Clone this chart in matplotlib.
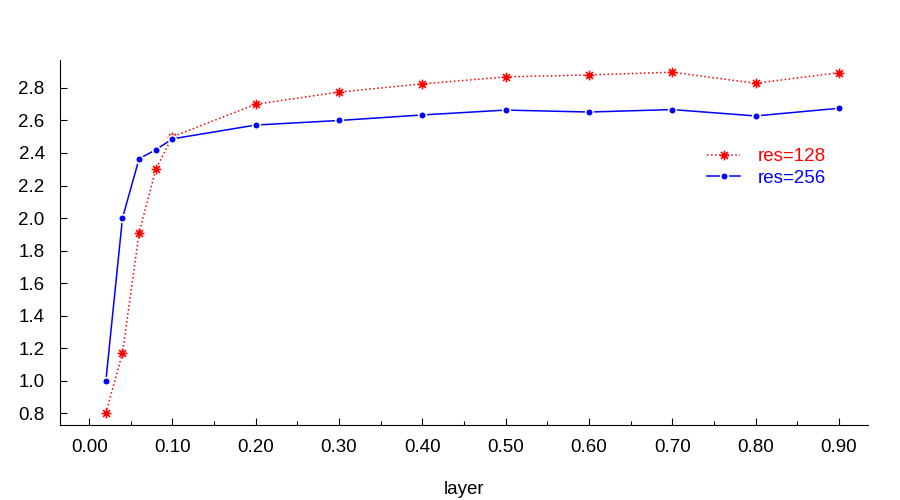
import numpy as np
import matplotlib
matplotlib.use("Agg")
import matplotlib.pyplot as plt
from matplotlib.path import Path
from matplotlib.ticker import MultipleLocator, FormatStrFormatter

layer = [0.02, 0.04, 0.06, 0.08, 0.10, 0.20, 0.30, 0.40, 0.50, 0.60, 0.70, 0.80, 0.90]
res128 = [0.80, 1.17, 1.91, 2.30, 2.50, 2.70, 2.775, 2.825, 2.868, 2.88, 2.897, 2.829, 2.894]
res256 = [0.995, 2.00, 2.365, 2.42, 2.487, 2.572, 2.60, 2.634, 2.664, 2.652, 2.667, 2.628, 2.675]

plt.rcParams['font.family'] = ['Liberation Sans', 'DejaVu Sans']

# asterisk marker like gnuplot's pointtype 3 (plus + cross)
d = 0.7071
asterisk = Path(
    [(-1, 0), (1, 0), (0, -1), (0, 1), (-d, -d), (d, d), (-d, d), (d, -d)],
    [Path.MOVETO, Path.LINETO] * 4)

fig = plt.figure(figsize=(9, 5), dpi=100)
ax = fig.add_axes([60/900, 75/500, 808/900, 365/500])

ax.plot(layer, res128, color='red', linestyle=':', linewidth=1.1,
        marker=asterisk, markersize=7, markerfacecolor='none',
        markeredgecolor='red', markeredgewidth=1.2, label='res=128')
ax.plot(layer, res256, color='blue', linestyle='-', linewidth=1.1,
        marker='o', markersize=5.5, markerfacecolor='blue',
        markeredgecolor='white', markeredgewidth=1.2, label='res=256')

ax.set_xlim(-0.035, 0.935)
ax.set_ylim(0.727, 2.972)
ax.xaxis.set_major_locator(MultipleLocator(0.1))
ax.xaxis.set_minor_locator(MultipleLocator(0.05))
ax.xaxis.set_major_formatter(FormatStrFormatter('%.2f'))
ax.yaxis.set_major_locator(MultipleLocator(0.2))
ax.yaxis.set_major_formatter(FormatStrFormatter('%.1f'))

ax.spines['top'].set_visible(False)
ax.spines['right'].set_visible(False)
ax.tick_params(direction='in', length=5, width=0.8, labelsize=13.5)
ax.tick_params(which='minor', direction='in', length=3, width=0.8)
ax.tick_params(axis='x', pad=10)
ax.tick_params(axis='y', pad=11)

ax.set_xlabel('layer', fontsize=13.5, labelpad=18)

leg = ax.legend(loc='upper left', bbox_to_anchor=(0.78, 0.805), frameon=False,
                fontsize=13.5, handlelength=1.75, handletextpad=0.95,
                labelspacing=0.25)
for text, line in zip(leg.get_texts(), leg.get_lines()):
    text.set_color(line.get_color())

fig.savefig('out.png', dpi=100)
